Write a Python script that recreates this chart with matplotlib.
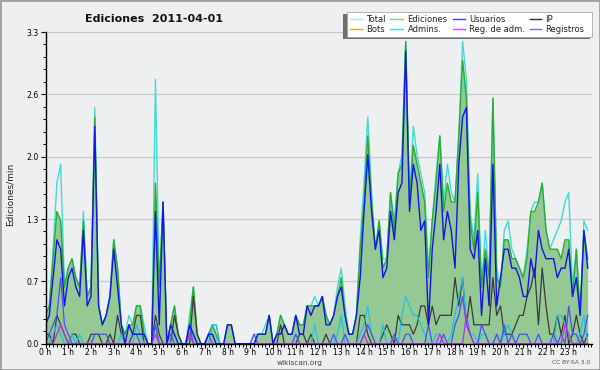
import matplotlib
matplotlib.use('Agg')
import matplotlib.pyplot as plt
from matplotlib.patches import Rectangle
from matplotlib.lines import Line2D
from matplotlib.ticker import MultipleLocator
import numpy as np

# 10-minute bins over one day (hours)
time_h = np.arange(144) / 6.0

total = [0.3,0.4,1.0,1.7,1.9,0.6,0.8,0.9,0.7,0.6,
         1.4,0.5,0.6,2.5,0.4,0.2,0.3,0.5,1.1,0.8,
         0.2,0.1,0.3,0.2,0.4,0.4,0.2,0.0,0.0,2.8,
         0.6,1.5,0.0,0.2,0.4,0.1,0.0,0.0,0.3,0.6,
         0.1,0.0,0.0,0.1,0.2,0.2,0.0,0.0,0.2,0.2,
         0.0,0.0,0.0,0.0,0.0,0.1,0.1,0.1,0.2,0.3,
         0.0,0.1,0.3,0.2,0.1,0.1,0.3,0.2,0.2,0.4,
         0.4,0.5,0.4,0.5,0.3,0.2,0.3,0.6,0.8,0.4,
         0.1,0.1,0.3,1.1,1.7,2.4,1.6,1.0,1.3,0.9,
         0.9,1.6,1.3,1.8,2.0,3.2,1.5,2.3,2.0,1.8,
         1.6,0.8,1.3,1.8,2.2,1.5,1.9,1.6,1.5,2.2,
         3.2,2.8,1.4,1.1,1.8,0.6,1.2,0.7,2.6,0.8,
         0.6,1.2,1.3,1.0,0.9,0.8,0.7,1.0,1.4,1.5,
         1.5,1.7,1.2,1.0,1.1,1.2,1.3,1.5,1.6,0.6,
         1.0,0.3,1.3,1.2]

ediciones = [0.3,0.4,0.9,1.4,1.3,0.6,0.8,0.9,0.7,0.6,
             1.3,0.5,0.6,2.4,0.4,0.2,0.3,0.5,1.1,0.8,
             0.2,0.1,0.2,0.2,0.4,0.4,0.1,0.0,0.0,1.7,
             0.6,1.5,0.0,0.2,0.4,0.1,0.0,0.0,0.2,0.6,
             0.1,0.0,0.0,0.1,0.2,0.1,0.0,0.0,0.2,0.2,
             0.0,0.0,0.0,0.0,0.0,0.0,0.1,0.1,0.1,0.3,
             0.0,0.1,0.3,0.2,0.1,0.1,0.3,0.2,0.2,0.4,
             0.4,0.4,0.4,0.5,0.3,0.2,0.3,0.5,0.7,0.3,
             0.1,0.1,0.3,1.0,1.5,2.2,1.5,1.0,1.3,0.8,
             0.9,1.6,1.2,1.8,1.9,3.2,1.5,2.1,1.9,1.7,
             1.5,0.7,1.3,1.7,2.2,1.4,1.7,1.5,1.5,2.2,
             3.0,2.6,1.3,1.0,1.6,0.6,1.0,0.7,2.6,0.7,
             0.6,1.1,1.1,0.9,0.9,0.8,0.7,0.9,1.4,1.4,
             1.5,1.7,1.2,1.0,1.0,1.0,0.9,1.1,1.1,0.5,
             1.0,0.3,1.2,0.9]

usuarios = [0.2,0.3,0.7,1.1,1.0,0.4,0.7,0.8,0.6,0.5,
            1.2,0.4,0.5,2.3,0.4,0.2,0.3,0.5,1.0,0.6,
            0.2,0.0,0.2,0.1,0.1,0.1,0.1,0.0,0.0,1.4,
            0.2,1.5,0.0,0.2,0.1,0.0,0.0,0.0,0.2,0.1,
            0.0,0.0,0.0,0.1,0.1,0.0,0.0,0.0,0.2,0.2,
            0.0,0.0,0.0,0.0,0.0,0.0,0.1,0.1,0.1,0.3,
            0.0,0.1,0.1,0.2,0.1,0.1,0.3,0.1,0.1,0.4,
            0.3,0.4,0.4,0.5,0.2,0.2,0.3,0.5,0.6,0.3,
            0.1,0.1,0.3,0.7,1.4,2.0,1.4,1.0,1.2,0.7,
            0.8,1.4,1.1,1.6,1.7,3.1,1.4,1.9,1.7,1.2,
            1.3,0.2,1.0,1.4,1.9,1.1,1.4,1.2,0.8,1.9,
            2.4,2.5,1.0,0.9,1.2,0.3,0.9,0.4,1.9,0.4,
            0.7,1.0,1.0,0.8,0.8,0.7,0.5,0.5,0.9,0.7,
            1.2,1.0,0.9,0.9,0.9,0.7,0.8,0.8,1.0,0.5,
            0.7,0.3,1.2,0.8]

ip = [0.1,0.1,0.0,0.3,0.2,0.1,0.0,0.1,0.1,0.0,
      0.0,0.0,0.1,0.1,0.1,0.0,0.0,0.1,0.0,0.3,
      0.1,0.0,0.0,0.1,0.3,0.3,0.0,0.0,0.0,0.3,
      0.1,0.0,0.0,0.0,0.3,0.1,0.0,0.0,0.0,0.5,
      0.1,0.0,0.0,0.0,0.0,0.0,0.0,0.0,0.0,0.0,
      0.0,0.0,0.0,0.0,0.0,0.0,0.0,0.0,0.0,0.0,
      0.0,0.0,0.2,0.0,0.0,0.0,0.0,0.1,0.1,0.0,
      0.1,0.0,0.0,0.0,0.1,0.0,0.0,0.0,0.0,0.0,
      0.0,0.0,0.0,0.3,0.3,0.1,0.0,0.0,0.0,0.1,
      0.2,0.1,0.0,0.3,0.2,0.2,0.2,0.1,0.2,0.4,
      0.4,0.2,0.4,0.2,0.3,0.3,0.3,0.3,0.7,0.4,
      0.7,0.2,0.5,0.2,0.2,0.2,0.2,0.2,0.7,0.3,
      0.4,0.1,0.1,0.1,0.2,0.3,0.3,0.5,0.6,0.8,
      0.2,0.8,0.4,0.1,0.1,0.3,0.1,0.3,0.0,0.1,
      0.3,0.1,0.0,0.1]

bots = [0.0] * 144

admins = [0.0,0.0,0.1,0.2,0.1,0.0,0.0,0.1,0.0,0.1,
          0.0,0.0,0.0,0.0,0.0,0.0,0.0,0.0,0.0,0.0,
          0.1,0.0,0.0,0.0,0.2,0.1,0.0,0.0,0.0,0.2,
          0.0,0.0,0.0,0.0,0.1,0.0,0.0,0.0,0.1,0.1,
          0.0,0.0,0.0,0.0,0.2,0.2,0.0,0.0,0.0,0.0,
          0.0,0.0,0.0,0.0,0.0,0.0,0.0,0.0,0.0,0.0,
          0.0,0.0,0.0,0.0,0.0,0.0,0.0,0.0,0.0,0.0,
          0.0,0.2,0.0,0.0,0.0,0.0,0.0,0.1,0.3,0.0,
          0.0,0.0,0.0,0.1,0.2,0.4,0.1,0.0,0.0,0.2,
          0.0,0.0,0.0,0.0,0.3,0.5,0.4,0.3,0.3,0.2,
          0.1,0.0,0.0,0.1,0.1,0.0,0.0,0.1,0.3,0.5,
          0.7,0.2,0.1,0.1,0.0,0.1,0.1,0.0,0.0,0.1,
          0.0,0.1,0.2,0.1,0.0,0.0,0.0,0.0,0.0,0.0,
          0.0,0.0,0.0,0.0,0.0,0.3,0.3,0.2,0.1,0.0,
          0.0,0.1,0.3,0.0]

reg_adm = [0.0,0.0,0.0,0.1,0.2,0.1,0.0,0.0,0.0,0.0,
           0.0,0.0,0.0,0.0,0.0,0.0,0.0,0.0,0.0,0.0,
           0.0,0.0,0.0,0.0,0.0,0.0,0.0,0.0,0.0,0.1,
           0.0,0.0,0.0,0.0,0.0,0.0,0.0,0.0,0.1,0.0,
           0.0,0.0,0.0,0.0,0.0,0.0,0.0,0.0,0.0,0.0,
           0.0,0.0,0.0,0.0,0.0,0.0,0.0,0.0,0.0,0.0,
           0.0,0.0,0.0,0.0,0.0,0.0,0.0,0.0,0.0,0.0,
           0.0,0.0,0.0,0.0,0.0,0.0,0.0,0.0,0.0,0.0,
           0.0,0.0,0.0,0.0,0.1,0.0,0.0,0.0,0.0,0.0,
           0.0,0.0,0.0,0.0,0.0,0.0,0.0,0.0,0.0,0.0,
           0.0,0.0,0.0,0.0,0.1,0.0,0.0,0.0,0.0,0.0,
           0.0,0.3,0.1,0.0,0.0,0.0,0.0,0.0,0.0,0.0,
           0.0,0.0,0.0,0.0,0.0,0.0,0.0,0.0,0.0,0.0,
           0.0,0.0,0.0,0.0,0.0,0.0,0.0,0.2,0.1,0.0,
           0.0,0.0,0.0,0.0]

registros = [0.0,0.1,0.2,0.3,0.7,0.2,0.1,0.0,0.0,0.0,
             0.0,0.0,0.0,0.1,0.1,0.1,0.1,0.0,0.0,0.0,
             0.0,0.0,0.0,0.1,0.1,0.0,0.0,0.0,0.0,0.2,
             0.0,0.0,0.0,0.1,0.0,0.0,0.0,0.0,0.2,0.0,
             0.0,0.0,0.0,0.1,0.0,0.0,0.0,0.0,0.0,0.0,
             0.0,0.0,0.0,0.0,0.0,0.1,0.0,0.0,0.0,0.0,
             0.0,0.0,0.0,0.0,0.0,0.0,0.1,0.0,0.0,0.0,
             0.0,0.0,0.0,0.0,0.0,0.0,0.1,0.0,0.0,0.1,
             0.0,0.0,0.0,0.0,0.1,0.2,0.1,0.0,0.0,0.0,
             0.0,0.0,0.1,0.0,0.0,0.1,0.1,0.0,0.0,0.0,
             0.0,0.2,0.0,0.0,0.0,0.1,0.0,0.0,0.2,0.3,
             0.5,0.2,0.1,0.0,0.0,0.2,0.1,0.0,0.0,0.1,
             0.0,0.2,0.0,0.1,0.0,0.1,0.1,0.1,0.0,0.0,
             0.1,0.0,0.0,0.0,0.1,0.0,0.1,0.0,0.4,0.1,
             0.1,0.0,0.1,0.3]

ytick_vals = [0.0, 0.66, 1.32, 1.98, 2.64, 3.3]
ytick_labels = ['0.0', '0.7', '1.3', '2.0', '2.6', '3.3']
hour_labels = [f'{h} h' for h in range(24)]

BG = '#eeeff1'
fig = plt.figure(figsize=(6, 3.7), dpi=100, facecolor=BG)
ax = fig.add_axes([45.5/600, 1 - 343.7/370, 546/600, 311.7/370])
ax.set_facecolor(BG)

c_total = '#40dcd0'
c_ed_line = '#2eaa2e'
c_ed_fill = '#94c994'
c_users = '#1414e8'
c_ip = '#3a3a3a'
c_bots = '#ff9a20'
c_admins = '#1ec4e4'
c_regadm = '#c828e0'
c_reg = '#4c4cff'

ax.fill_between(time_h, ediciones, 0, color=c_ed_fill, lw=0, zorder=1)
ax.plot(time_h, total, color=c_total, lw=1.0, zorder=2)
ax.plot(time_h, ediciones, color=c_ed_line, lw=1.0, zorder=3)
ax.plot(time_h, bots, color=c_bots, lw=1.0, zorder=3)
ax.plot(time_h, ip, color=c_ip, lw=0.9, zorder=4)
ax.plot(time_h, admins, color=c_admins, lw=0.9, zorder=4)
ax.plot(time_h, registros, color=c_reg, lw=0.9, zorder=4)
ax.plot(time_h, reg_adm, color=c_regadm, lw=0.9, zorder=4)
ax.plot(time_h, usuarios, color=c_users, lw=1.0, zorder=5)

ax.set_xlim(0, 24)
ax.set_ylim(0, 3.3)

for s in ['top', 'right']:
    ax.spines[s].set_visible(False)
for s in ['left', 'bottom']:
    ax.spines[s].set_color('black')
    ax.spines[s].set_linewidth(1.0)
    ax.spines[s].set_zorder(10)

ax.set_yticks(ytick_vals)
ax.set_yticklabels(ytick_labels)
ax.yaxis.set_minor_locator(MultipleLocator(0.132))
ax.set_xticks(range(24))
ax.set_xticklabels(hour_labels)
ax.xaxis.set_minor_locator(MultipleLocator(1/6))
ax.tick_params(axis='y', which='major', direction='out', length=3.5, width=0.8,
               labelsize=5.6, colors='black', pad=1.5)
ax.tick_params(axis='x', which='major', direction='out', length=3.0, width=0.8,
               labelsize=5.5, colors='black', pad=0.3)
ax.tick_params(axis='both', which='minor', direction='out', length=2.2, width=0.7, colors='black')
ax.yaxis.grid(True, which='major', color='#c9c9c9', lw=0.9, zorder=0)
ax.set_axisbelow(True)

fig.text(85/600, 1 - 19/370, 'Ediciones  2011-04-01', fontsize=8, fontweight='bold',
         ha='left', va='center', color='#111111')
fig.text(10/600, 1 - 194/370, 'Ediciones/min', rotation=90, fontsize=6.5,
         ha='center', va='center', color='#222222')
fig.text(300/600, 1 - 363/370, 'wikiscan.org', fontsize=5.3, ha='center', va='center', color='#444444')
fig.text(590/600, 1 - 363/370, 'CC BY-SA 3.0', fontsize=4.3, ha='right', va='center', color='#555555')

# legend box with shadow
fig.add_artist(Rectangle((342.7/600, 1 - 39/370), 247.3/600, 24.7/370,
                         transform=fig.transFigure, facecolor='#6e6e6e', edgecolor='none', zorder=20))
fig.add_artist(Rectangle((346.7/600, 1 - 36.7/370), 245/600, 25/370,
                         transform=fig.transFigure, facecolor='white', edgecolor='#9a9a9a', lw=0.5, zorder=21))

legend_names = ['Total', 'Ediciones', 'Usuarios', 'IP',
                'Bots', 'Admins.', 'Reg. de adm.', 'Registros']
legend_colors = ['#a8ecec', '#80d080', '#4040ff', '#303030',
                 '#f0a030', '#40d8e8', '#e040f0', '#7070ff']
line_x = [(350, 362), (390, 403), (453, 465), (530, 541)]
text_x = [366.5, 407.5, 469, 545]
row_y = [19.3, 29.0]
for k, (name, col) in enumerate(zip(legend_names, legend_colors)):
    r, c = divmod(k, 4)
    y = 1 - row_y[r] / 370
    x0, x1 = line_x[c]
    fig.add_artist(Line2D([x0/600, x1/600], [y, y], transform=fig.transFigure,
                          color=col, lw=1.0, zorder=22))
    fig.text(text_x[c]/600, y, name, fontsize=6, ha='left', va='center',
             color='#222222', zorder=23)

# outer frame
fig.add_artist(Rectangle((0, 0), 1, 1, transform=fig.transFigure, fill=False,
                         edgecolor='#a0a0a0', lw=2, zorder=30))

fig.savefig('out.png', dpi=100, facecolor=BG)
